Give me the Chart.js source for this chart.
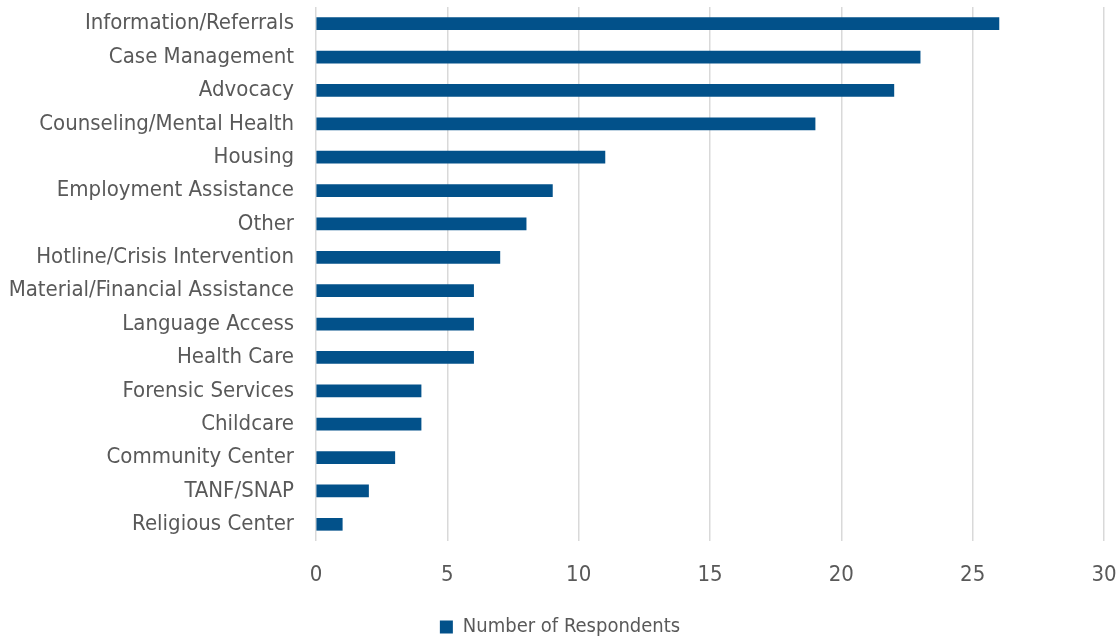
<!DOCTYPE html>
<html>
<head>
<meta charset="utf-8">
<script src="https://cdn.jsdelivr.net/npm/chart.js@4"></script>
<style>
  html, body { margin: 0; padding: 0; background: #fff; }
  #wrap { width: 1120px; height: 642px; }
</style>
</head>
<body>
<div id="wrap"><canvas id="chart" width="1120" height="642"></canvas></div>
<script>
const categories = [
    'Information/Referrals', 'Case Management', 'Advocacy', 'Counseling/Mental Health',
    'Housing', 'Employment Assistance', 'Other', 'Hotline/Crisis Intervention',
    'Material/Financial Assistance', 'Language Access', 'Health Care', 'Forensic Services',
    'Childcare', 'Community Center', 'TANF/SNAP', 'Religious Center'
];
const respondents = [26, 23, 22, 19, 11, 9, 8, 7, 6, 6, 6, 4, 4, 3, 2, 1];
const seriesName = 'Number of Respondents';

const fontFamily = '"Liberation Sans Narrow", "DejaVu Sans Condensed", "Liberation Sans", sans-serif';
const textColor = '#595959';

document.addEventListener('DOMContentLoaded', function() {
    const ctx = document.getElementById('chart').getContext('2d');
    new Chart(ctx, {
        type: 'bar',
        data: {
            labels: categories,
            datasets: [{
                label: seriesName,
                data: respondents,
                backgroundColor: '#02518a',
                barThickness: 12
            }]
        },
        options: {
            indexAxis: 'y',
            responsive: false,
            animation: false,
            layout: { padding: { top: 7, right: 0, left: 0, bottom: -5 } },
            plugins: {
                legend: {
                    position: 'bottom',
                    labels: {
                        color: textColor,
                        font: { family: fontFamily, size: 20 },
                        boxWidth: 13,
                        boxHeight: 13,
                        padding: 0
                    }
                },
                tooltip: { enabled: false }
            },
            scales: {
                x: {
                    min: 0,
                    max: 30,
                    ticks: {
                        stepSize: 5,
                        color: textColor,
                        font: { family: fontFamily, size: 22 },
                        padding: 21
                    },
                    grid: { color: '#d9d9d9', lineWidth: 1.5, drawTicks: false },
                    border: { display: false },
                    afterFit: function(scale) {
                        // keep the plot edge fixed, not pushed in by tick padding
                        scale.height = 76;
                        scale.paddingLeft = 0;
                        scale.paddingRight = 16;
                    }
                },
                y: {
                    ticks: {
                        color: textColor,
                        font: { family: fontFamily, size: 22 },
                        padding: 22,
                        autoSkip: false
                    },
                    grid: { display: false, drawTicks: false },
                    border: { display: false },
                    afterFit: function(scale) {
                        scale.width = 316;
                        scale.paddingTop = 0;
                        scale.paddingBottom = 0;
                    }
                }
            }
        }
    });
});
</script>
</body>
</html>
